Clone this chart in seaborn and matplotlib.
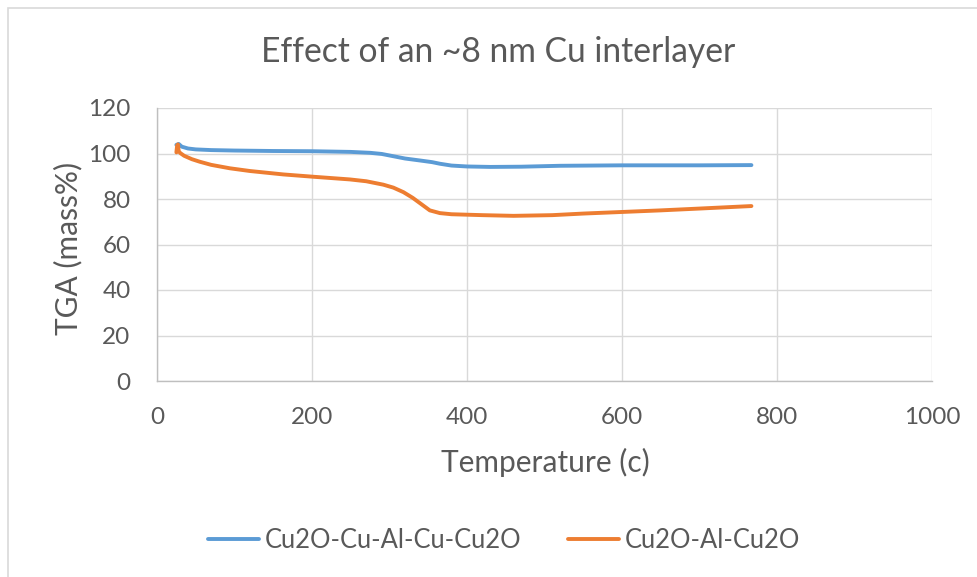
import matplotlib
matplotlib.use("Agg")
import matplotlib.pyplot as plt
from matplotlib.patches import Rectangle
import numpy as np
import pandas as pd
import seaborn as sns

# TGA traces (temperature in C, mass in %)
temp_cu = [25, 28, 32, 40, 50, 70, 100, 150, 200, 250, 275, 290, 305, 320,
           340, 355, 365, 380, 400, 430, 470, 520, 560, 600, 650, 700, 767]
mass_cu = [103.8, 104.2, 103.0, 102.2, 101.8, 101.5, 101.3, 101.1, 101.0,
           100.7, 100.3, 99.8, 98.8, 97.8, 96.9, 96.2, 95.5, 94.7, 94.3,
           94.1, 94.2, 94.6, 94.7, 94.8, 94.8, 94.8, 94.9]

temp_al = [25, 26, 27, 28, 30, 35, 45, 55, 70, 94, 120, 163, 201, 249, 270,
           292, 305, 318, 330, 340, 352, 365, 380, 420, 460, 510, 550, 600,
           650, 700, 767]
mass_al = [100.5, 103.5, 104.0, 101.0, 100.2, 99.0, 97.5, 96.4, 95.0, 93.5,
           92.3, 90.8, 89.8, 88.6, 87.8, 86.3, 85.0, 83.0, 80.5, 78.0, 75.0,
           73.8, 73.3, 72.9, 72.6, 72.9, 73.6, 74.3, 75.0, 75.8, 76.9]

series_names = ["Cu2O-Cu-Al-Cu-Cu2O", "Cu2O-Al-Cu2O"]
series_colors = ["#5B9BD5", "#ED7D31"]

x_ticks = [0, 200, 400, 600, 800, 1000]
y_ticks = [0, 20, 40, 60, 80, 100, 120]

df = pd.concat([
    pd.DataFrame({"Temperature": temp_cu, "TGA": mass_cu, "Sample": series_names[0]}),
    pd.DataFrame({"Temperature": temp_al, "TGA": mass_al, "Sample": series_names[1]}),
], ignore_index=True)

sns.set_style("white")
plt.rcParams["font.family"] = ["Lato", "DejaVu Sans"]

text_color = "#595959"
grid_color = "#D9D9D9"

fig = plt.figure(figsize=(9.77, 5.77), dpi=100)
ax = fig.add_axes([157 / 977, 1 - 381 / 577, (932 - 157) / 977, (381 - 108) / 577])

sns.lineplot(data=df, x="Temperature", y="TGA", hue="Sample",
             hue_order=series_names, palette=series_colors,
             linewidth=2.8, sort=False, estimator=None, ax=ax, legend=False)

ax.set_xlim(0, 1000)
ax.set_ylim(0, 120)
ax.set_xticks(x_ticks)
ax.set_yticks(y_ticks)
ax.grid(True, color=grid_color, linewidth=1.0)
ax.set_axisbelow(True)
for side in ["top", "right"]:
    ax.spines[side].set_visible(False)
for side in ["left", "bottom"]:
    ax.spines[side].set_color("#BFBFBF")
    ax.spines[side].set_linewidth(1.0)
ax.tick_params(axis="both", length=0, labelsize=17.5, labelcolor=text_color)
ax.tick_params(axis="x", pad=19)
ax.tick_params(axis="y", pad=19)
ax.set_xlabel("")
ax.set_ylabel("")

fig.text(545 / 977, 1 - 462 / 577, "Temperature (c)", ha="center", va="center",
         fontsize=21.5, color=text_color)
fig.text(68 / 977, 1 - 248 / 577, "TGA (mass%)", ha="center", va="center",
         rotation=90, fontsize=21.5, color=text_color)
fig.text(498 / 977, 1 - 52 / 577, "Effect of an ~8 nm Cu interlayer",
         ha="center", va="center", fontsize=24.2, color=text_color)

handles = [plt.Line2D([0], [0], color=c, linewidth=2.8) for c in series_colors]
fig.legend(handles, series_names, loc="center", bbox_to_anchor=(504 / 977, 1 - 540 / 577),
           ncol=2, frameon=False, fontsize=18.4, labelcolor=text_color,
           handlelength=2.0, handletextpad=0.25, columnspacing=1.8)

# chart area outline
fig.patches.append(Rectangle((7.5 / 977, -0.1), 1.2, (577 - 7.5) / 577 + 0.1,
                             transform=fig.transFigure, fill=False,
                             edgecolor=grid_color, linewidth=1.2, clip_on=False))

fig.savefig("out.png", dpi=100, facecolor="white")
